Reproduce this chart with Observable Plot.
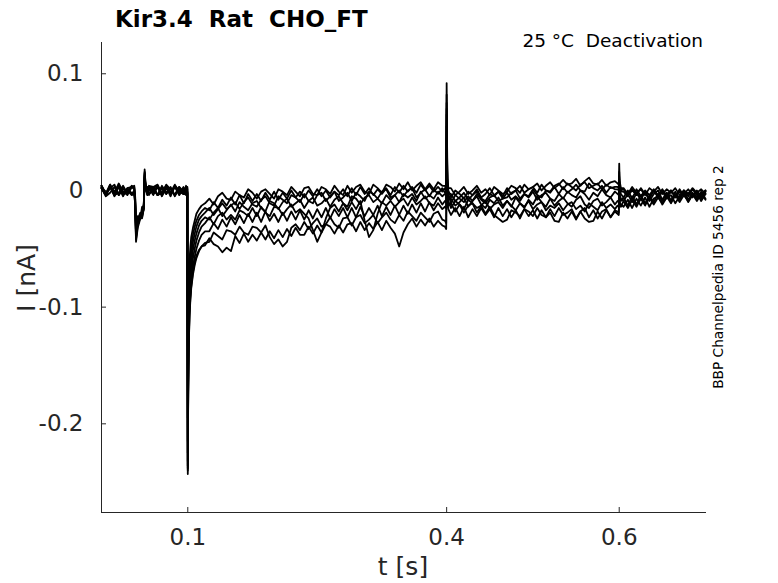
<!DOCTYPE html>
<html>
<head>
<meta charset="utf-8">
<script src="https://cdn.jsdelivr.net/npm/d3@7"></script>
<script src="https://cdn.jsdelivr.net/npm/@observablehq/plot@0.6"></script>
<style>
  html, body { margin: 0; padding: 0; background: #fff; }
</style>
</head>
<body>
<div id="chart"></div>
<script>
// ---- data (current in pA; converted to nA below) ----
const titleText = "Kir3.4  Rat  CHO_FT";
const subText = "25 °C  Deactivation";
const sideText = "BBP Channelpedia ID 5456 rep 2";
const xLabel = "t [s]";
const yLabel = "I [nA]";
const xTicks = [0.1, 0.4, 0.6];
const yTicks = [-0.2, -0.1, 0, 0.1];

const T = [
  0,0.005,0.01,0.015,0.02,0.025,0.03,0.035,
  0.038,0.039,0.04,0.042,0.045,0.047,0.049,0.05,0.051,0.053,0.055,
  0.06,0.065,0.07,0.075,0.08,0.085,0.09,0.095,
  0.098,0.0995,
  0.1,0.1005,0.101,0.102,0.103,0.104,0.106,0.108,0.11,0.113,0.116,0.12,
  0.125,0.13,0.135,0.14,0.145,0.15,0.155,0.16,0.165,0.17,0.175,
  0.18,0.185,0.19,0.195,0.2,0.205,0.21,0.215,0.22,0.225,0.23,
  0.235,0.24,0.245,0.25,0.255,0.26,0.265,0.27,0.275,0.28,0.285,
  0.29,0.295,0.3,0.305,0.31,0.315,0.32,0.325,0.33,0.335,0.34,
  0.345,0.35,0.355,0.36,0.365,0.37,0.375,0.38,0.385,0.39,0.395,
  0.398,0.3995,0.4,0.4005,0.401,0.402,
  0.405,0.41,0.415,0.42,0.425,0.43,0.435,0.44,0.445,0.45,0.455,0.46,0.465,
  0.47,0.475,0.48,0.485,0.49,0.495,0.5,0.505,0.51,0.515,0.52,0.525,0.53,
  0.535,0.54,0.545,0.55,0.555,0.56,0.565,0.57,0.575,0.58,0.585,0.59,0.595,
  0.598,0.5995,0.6,0.6005,0.602,
  0.605,0.61,0.615,0.62,0.625,0.63,0.635,0.64,0.645,0.65,
  0.655,0.66,0.665,0.67,0.675,0.68,0.685,0.69,0.695,0.7
];

const trace1 = [
  4,-3,5,-2,6,-1,-4,3,
  2,-6,-30,-22,-24,-14,-15,12,4,-2,3,
  -2,4,-3,5,1,-4,3,-1,
  3,-2,
  -195,-120,-85,-60,-48,-40,-32,-26,-20,-16,-13,-11,
  -7,-12,-5,-2,-7,-8,-1,-4,-6,1,-2,
  -7,-1,1,-3,-7,1,-1,-4,3,-1,-5,
  2,3,-3,-4,3,1,-3,4,-1,-4,4,
  -2,3,5,-1,-3,5,2,-2,5,3,-1,
  6,1,7,0,4,7,1,6,1,7,4,
  4,2,92,40,10,2,
  2,-4,-1,3,-3,0,4,-2,1,-4,3,0,-3,
  -1,4,2,-2,5,1,3,6,0,4,7,2,5,
  9,5,6,10,4,8,11,6,5,9,4,7,8,
  6,5,23,8,2,
  2,-3,3,-2,1,-4,2,-1,3,-3,
  1,-2,2,-4,0,-3,2,-2,1,-3
];
const trace2 = [
  2,-4,3,-5,4,-2,1,-3,
  0,-10,-38,-28,-22,-20,-14,16,5,-3,2,
  -4,3,-5,2,-3,4,0,-3,
  -3,2,
  -215,-135,-98,-70,-57,-48,-38,-31,-26,-21,-18,-15,
  -17,-10,-15,-8,-13,-6,-12,-4,-11,-3,-9,
  -3,-9,-2,-8,-1,-8,-2,-7,0,-6,-1,
  -6,0,-5,1,-5,0,-6,-1,-4,1,-5,
  2,-4,3,-3,2,-4,1,-3,2,-4,3,
  -2,4,-1,3,-2,5,0,4,-1,3,-1,
  2,0,75,30,6,0,
  -6,0,-3,-7,-1,-4,1,-6,-3,2,-4,-1,-5,
  2,-3,0,4,-2,1,3,-2,5,0,-1,4,6,
  1,6,3,0,5,7,2,4,6,1,5,2,3,
  3,2,16,5,0,
  1,-4,0,-3,-5,0,-4,1,-5,-1,
  -4,0,-5,-1,-3,1,-4,-1,-4,0
];
const trace3 = [
  2,-4,3,-1,5,-3,0,-2,
  -2,-7,-35,-26,-20,-20,-12,10,2,3,-3,
  1,-4,4,-2,3,-5,2,-3,
  1,-3,
  -225,-145,-105,-78,-64,-55,-44,-37,-31,-25,-22,-19,
  -15,-21,-16,-11,-16,-13,-10,-16,-10,-6,-12,
  -14,-8,-5,-11,-13,-5,-8,-11,-4,-6,-10,
  -3,-9,-11,-4,-2,-9,-5,-1,-9,-6,-2,
  -9,-2,-5,-9,-1,-3,-7,-1,1,-6,-4,
  0,-5,0,2,-6,-2,1,-5,1,-3,2,
  -2,-2,82,25,4,-2,
  -3,-9,-6,-2,-8,-4,-1,-7,-9,-3,-5,-1,-7,
  -6,-2,0,-7,-3,-5,1,-4,-6,0,-2,3,-3,
  3,-2,1,5,0,-1,6,2,0,4,-2,3,1,
  1,0,12,3,-1,
  -1,-5,1,-4,2,-3,-6,0,-4,1,
  -5,-1,-4,-6,0,-5,1,-4,-6,-1
];
const trace4 = [
  2,-5,-2,3,-4,1,0,-4,
  -3,-12,-42,-30,-23,-21,-16,14,4,-4,0,
  3,-4,2,-3,2,-4,2,-2,
  -4,1,
  -232,-155,-115,-86,-72,-63,-51,-43,-37,-30,-26,-23,
  -25,-19,-15,-22,-17,-12,-18,-10,-14,-17,-11,
  -9,-15,-18,-9,-11,-16,-10,-7,-14,-11,-8,
  -15,-9,-6,-13,-11,-7,-14,-8,-5,-11,-14,
  -5,-7,-12,-6,-4,-10,-7,-11,-4,-8,-4,
  -10,-3,-6,-3,-9,-1,-7,-4,-7,-1,-5,
  -3,-4,65,20,2,-3,
  -11,-4,-7,-10,-5,-9,-3,-8,-11,-6,-4,-9,-7,
  -2,-8,-5,-9,-3,-6,-1,-8,-4,-2,-7,-9,-3,
  -7,-1,-4,-6,0,-3,-8,-2,-5,1,-4,-6,-1,
  -3,-4,10,0,-3,
  -6,0,-7,1,-5,-1,-7,0,-6,-1,
  -7,0,-6,1,-5,-2,-6,0,-7,-1
];
const trace5 = [
  4,-3,2,5,-4,3,-2,4,
  3,-9,-40,-29,-22,-23,-15,18,6,-2,4,
  3,5,-3,4,-2,5,-1,-3,
  4,-2,
  -238,-165,-125,-95,-80,-70,-58,-50,-43,-36,-31,-28,
  -23,-29,-22,-19,-25,-21,-25,-17,-19,-22,-15,
  -22,-14,-19,-22,-14,-15,-21,-16,-12,-19,-16,
  -20,-24,-34,-44,-36,-24,-15,-12,-18,-11,-17,
  -10,-16,-9,-26,-40,-34,-20,-10,-13,-9,-14,
  -10,-7,-13,-6,-12,-9,-5,-11,-13,-6,-12,
  -9,-10,70,18,-2,-8,
  -7,-13,-10,-6,-14,-9,-5,-12,-15,-8,-11,-6,-13,
  -9,-14,-6,-11,-15,-8,-12,-5,-10,-14,-7,-13,-9,
  -6,-11,-14,-8,-5,-12,-15,-9,-7,-13,-10,-6,-12,
  -9,-10,8,-4,-7,
  -9,-3,-10,-2,-8,-1,-9,-3,0,-8,
  -2,-9,-1,-7,0,-8,-2,-6,-3,0
];
const trace6 = [
  4,-3,3,-4,-2,4,-3,3,
  1,-5,-33,-25,-19,-20,-12,13,3,3,-4,
  3,-4,-2,4,-3,3,-4,1,
  2,-1,
  -240,-170,-132,-103,-88,-78,-65,-57,-50,-43,-38,-35,
  -35,-28,-33,-25,-31,-23,-29,-21,-28,-20,-27,
  -19,-27,-18,-26,-20,-27,-19,-26,-18,-25,-17,
  -25,-17,-24,-16,-23,-15,-24,-16,-22,-15,-23,
  -15,-23,-14,-22,-15,-21,-13,-22,-14,-21,-13,
  -21,-13,-20,-12,-19,-11,-18,-10,-17,-11,-16,
  -14,-15,55,12,-4,-9,
  -15,-9,-12,-16,-8,-11,-15,-13,-9,-16,-12,-10,-15,
  -9,-13,-17,-11,-14,-9,-16,-12,-10,-17,-13,-15,-11,
  -17,-12,-10,-16,-13,-18,-11,-14,-17,-10,-15,-12,-16,
  -13,-14,5,-6,-9,
  -6,-13,-5,-12,-4,-11,-5,-10,-3,-9,
  -2,-9,-3,-8,-2,-9,-3,-8,-1,-7
];
const trace7 = [
  3,-3,5,-4,3,-5,2,3,
  4,-14,-44,-32,-24,-24,-16,11,1,-3,3,
  2,4,-4,3,-5,4,-3,3,
  -3,3,
  -243,-175,-138,-108,-94,-84,-72,-64,-58,-52,-48,-45,
  -44,-36,-39,-42,-34,-35,-38,-31,-36,-38,-31,
  -32,-36,-30,-40,-46,-42,-48,-44,-32,-29,-34,
  -27,-33,-28,-24,-31,-29,-23,-29,-32,-24,-23,
  -30,-23,-21,-28,-25,-21,-28,-23,-19,-25,-28,
  -21,-26,-18,-22,-26,-19,-23,-27,-20,-18,-25,
  -26,-28,45,8,-8,-13,
  -11,-18,-12,-19,-13,-11,-19,-13,-20,-14,-21,-24,-27,
  -25,-17,-19,-22,-16,-18,-22,-15,-21,-23,-16,-22,-15,
  -21,-19,-16,-24,-18,-15,-23,-17,-24,-18,-16,-23,-17,
  -18,-19,2,-10,-12,
  -14,-8,-15,-7,-13,-6,-14,-7,-5,-12,
  -6,-4,-11,-5,-3,-10,-4,-2,-9,-3
];
const trace8 = [
  2,-4,3,-3,4,-4,2,-3,
  -2,-11,-37,-27,-21,-21,-13,15,4,-2,-3,
  2,-4,3,-3,2,-4,3,-2,
  3,-3,
  -236,-172,-136,-106,-92,-82,-70,-62,-56,-51,-48,-47,
  -41,-46,-48,-53,-49,-52,-39,-45,-37,-44,-38,
  -43,-36,-42,-35,-41,-34,-40,-33,-39,-32,-38,
  -38,-31,-37,-30,-36,-29,-31,-37,-30,-36,-29,
  -28,-35,-27,-34,-28,-33,-27,-34,-26,-32,-37,
  -48,-36,-29,-24,-31,-25,-30,-24,-31,-26,-30,
  -31,-33,35,4,-10,-16,
  -21,-15,-22,-14,-23,-16,-22,-15,-21,-16,-23,-15,-22,
  -16,-23,-17,-24,-16,-22,-17,-24,-17,-23,-19,-26,-27,
  -19,-24,-18,-25,-18,-24,-27,-26,-18,-24,-17,-23,-18,
  -20,-21,0,-12,-14,
  -9,-15,-8,-14,-7,-13,-6,-12,-6,-11,
  -5,-11,-4,-10,-4,-9,-3,-9,-3,-8
];

const traces = [trace1, trace2, trace3, trace4, trace5, trace6, trace7, trace8];

// ---- build table ----
const rows = traces.flatMap((vals, k) =>
  vals.map((pA, j) => ({t: T[j], i: pA / 1000, trace: k}))
);
const bad = traces.map((v, k) => v.length !== T.length ? `trace${k+1}:${v.length}/${T.length}` : null).filter(Boolean);

const fmt = d => d === 0 ? "0" : String(d);

const W = 778, H = 583;
const svg = Plot.plot({
  width: W,
  height: H,
  marginTop: 42,
  marginBottom: 71,
  marginLeft: 101,
  marginRight: 73,
  style: {fontFamily: "DejaVu Sans", fontSize: "23px", color: "#262626", background: "white"},
  x: {domain: [0, 0.7], ticks: xTicks, tickFormat: fmt, tickSize: -5, tickPadding: 21, line: true, label: null},
  y: {domain: [-0.276, 0.1268], ticks: yTicks, tickFormat: fmt, tickSize: -5, tickPadding: 23, line: true, label: null},
  marks: [
    Plot.line(rows, {x: "t", y: "i", z: "trace", stroke: "black", strokeWidth: 1.8, strokeLinejoin: "round"})
  ]
});

const s = d3.select(svg);
s.append("text")
  .attr("x", 115).attr("y", 27).attr("text-anchor", "start")
  .attr("font-family", "DejaVu Sans").attr("font-weight", "bold").attr("font-size", 23)
  .attr("fill", "#000").text(titleText);
s.append("text")
  .attr("x", 703).attr("y", 47).attr("text-anchor", "end")
  .attr("font-family", "DejaVu Sans").attr("font-size", 18.5)
  .attr("fill", "#000").text(subText);
s.append("text")
  .attr("transform", "translate(723,277) rotate(-90)").attr("text-anchor", "middle")
  .attr("font-family", "DejaVu Sans").attr("font-size", 13.7)
  .attr("fill", "#000").text(sideText);
s.append("text")
  .attr("transform", "translate(35,278) rotate(-90)").attr("text-anchor", "middle")
  .attr("font-family", "DejaVu Sans").attr("font-size", 25)
  .attr("fill", "#262626").text(yLabel);
s.append("text")
  .attr("x", 403).attr("y", 575).attr("text-anchor", "middle")
  .attr("font-family", "DejaVu Sans").attr("font-size", 25)
  .attr("fill", "#262626").text(xLabel);
if (bad.length) {
  s.append("text").attr("x", 300).attr("y", 300).attr("fill", "red").attr("font-size", 14).text("LEN " + bad.join(" "));
}

document.getElementById("chart").appendChild(svg);
</script>
</body>
</html>
